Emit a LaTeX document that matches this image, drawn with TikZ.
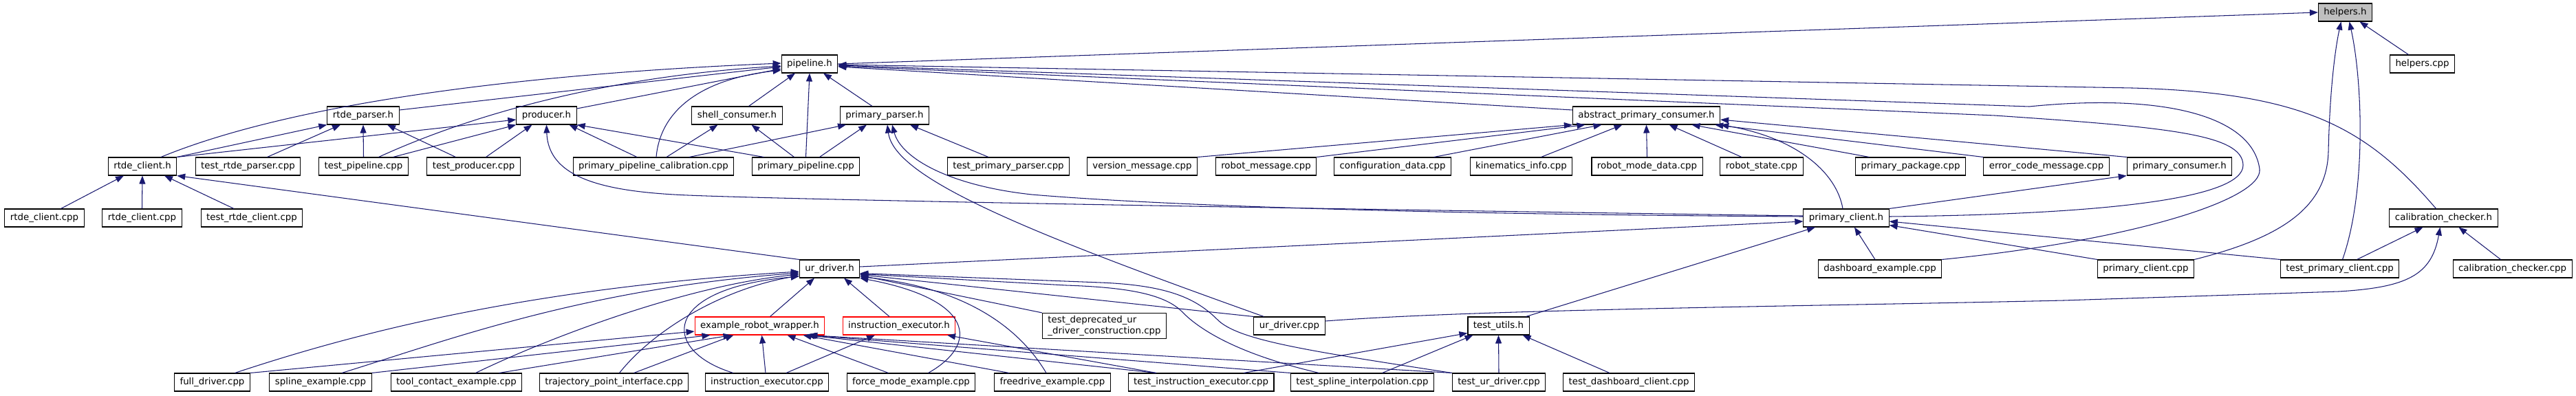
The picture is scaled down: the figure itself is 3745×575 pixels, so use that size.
\documentclass[tikz,border=0pt]{standalone}
\usepackage{fontspec}
\newfontfamily\dotfont{DejaVu Sans}
\usepackage{xcolor}
\usetikzlibrary{arrows.meta}
\definecolor{edgeblue}{HTML}{191970}
\definecolor{headgray}{HTML}{BFBFBF}
\def\px{0.02cm}
\tikzset{
  file/.style={draw=black, fill=white, line width=0.6pt, inner xsep=8*\px, inner ysep=0pt,
    minimum height=26*\px, font=\dotfont\fontsize{7.6}{9}\selectfont},
  target/.style={file, fill=headgray},
  undoc/.style={file, draw=red},
  dep/.style={draw=edgeblue, line width=0.6pt, -{Triangle[length=0.24cm, width=0.18cm]}}
}
\begin{document}
\begin{tikzpicture}[x=0.02cm, y=-0.02cm]
  \useasboundingbox (0,0) rectangle (3745,575);
  % files, one row per rank
  \node[target] (helpersh) at (3409.5,18) {helpers.h};
  \node[file] (pipelineh) at (1177,93) {pipeline.h};
  \node[file] (helperscpp) at (3521.5,93) {helpers.cpp};

  \node[file] (rtdeparserh) at (528,168) {rtde\_parser.h};
  \node[file] (producerh) at (794.5,168) {producer.h};
  \node[file] (shellconsumerh) at (1071.5,168) {shell\_consumer.h};
  \node[file] (primaryparserh) at (1286,168) {primary\_parser.h};
  \node[file] (abstractconsumerh) at (2393.5,168) {abstract\_primary\_consumer.h};

  \node[file] (rtdeclienth) at (207,242) {rtde\_client.h};
  \node[file] (testrtdeparsercpp) at (360.5,242) {test\_rtde\_parser.cpp};
  \node[file] (testpipelinecpp) at (528.5,242) {test\_pipeline.cpp};
  \node[file] (testproducercpp) at (688.5,242) {test\_producer.cpp};
  \node[file] (pipelinecalibcpp) at (950,242) {primary\_pipeline\_calibration.cpp};
  \node[file] (primarypipelinecpp) at (1171.5,242) {primary\_pipeline.cpp};
  \node[file] (testprimaryparsercpp) at (1466,242) {test\_primary\_parser.cpp};
  \node[file] (versionmessagecpp) at (1660.5,242) {version\_message.cpp};
  \node[file] (robotmessagecpp) at (1840.5,242) {robot\_message.cpp};
  \node[file] (configdatacpp) at (2024.5,242) {configuration\_data.cpp};
  \node[file] (kinematicsinfocpp) at (2211.5,242) {kinematics\_info.cpp};
  \node[file] (robotmodedatacpp) at (2394.5,242) {robot\_mode\_data.cpp};
  \node[file] (robotstatecpp) at (2561,242) {robot\_state.cpp};
  \node[file] (primarypackagecpp) at (2777.5,242) {primary\_package.cpp};
  \node[file] (errorcodemessagecpp) at (2975,242) {error\_code\_message.cpp};
  \node[file] (primaryconsumerh) at (3168.5,242) {primary\_consumer.h};

  \node[file] (rtdeclientcppa) at (64.5,317) {rtde\_client.cpp};
  \node[file] (rtdeclientcppb) at (206.5,317) {rtde\_client.cpp};
  \node[file] (testrtdeclientcpp) at (366,317) {test\_rtde\_client.cpp};
  \node[file] (primaryclienth) at (2684,317) {primary\_client.h};
  \node[file] (calibcheckerh) at (3552.5,317) {calibration\_checker.h};

  \node[file] (urdriverh) at (1206,391) {ur\_driver.h};
  \node[file] (dashboardcpp) at (2733,391) {dashboard\_example.cpp};
  \node[file] (primaryclientcpp) at (3119.5,391) {primary\_client.cpp};
  \node[file] (testprimaryclientcpp) at (3401.5,391) {test\_primary\_client.cpp};
  \node[file] (calibcheckercpp) at (3652.5,391) {calibration\_checker.cpp};

  \node[undoc] (robotwrapperh) at (1104.5,474) {example\_robot\_wrapper.h};
  \node[undoc] (instrexech) at (1307,474) {instruction\_executor.h};
  \node[file, align=left, inner ysep=4*\px] (testdeprecatedcpp) at (1605.5,474) {test\_deprecated\_ur\\\_driver\_construction.cpp};
  \node[file] (urdrivercpp) at (1874.5,474) {ur\_driver.cpp};
  \node[file] (testutilsh) at (2178.5,474) {test\_utils.h};

  \node[file] (fulldrivercpp) at (308.5,556) {full\_driver.cpp};
  \node[file] (splinecpp) at (466,556) {spline\_example.cpp};
  \node[file] (toolcontactcpp) at (663.5,556) {tool\_contact\_example.cpp};
  \node[file] (trajectorycpp) at (892.5,556) {trajectory\_point\_interface.cpp};
  \node[file] (instrexeccpp) at (1115,556) {instruction\_executor.cpp};
  \node[file] (forcemodecpp) at (1324.5,556) {force\_mode\_example.cpp};
  \node[file] (freedrivecpp) at (1530,556) {freedrive\_example.cpp};
  \node[file] (testinstrexeccpp) at (1746,556) {test\_instruction\_executor.cpp};
  \node[file] (testsplinecpp) at (1980.5,556) {test\_spline\_interpolation.cpp};
  \node[file] (testurdrivercpp) at (2179,556) {test\_ur\_driver.cpp};
  \node[file] (testdashboardcpp) at (2368,556) {test\_dashboard\_client.cpp};

  % helpers.h
  \draw[dep] (pipelineh.east) -- (helpersh.west);
  \draw[dep] ([xshift=-20*\px]helperscpp.north) -- ([xshift=21*\px]helpersh.south);
  \draw[dep] (primaryclientcpp.north east) .. controls (3320,345) and (3383,300) .. (3385,220) .. controls (3387,130) and (3395,70) .. ([xshift=-6*\px]helpersh.south);
  \draw[dep] ([xshift=4*\px]testprimaryclientcpp.north) .. controls (3440,280) and (3435,120) .. ([xshift=6*\px]helpersh.south);

  % pipeline.h
  \draw[dep] ([xshift=27*\px]rtdeclienth.north) .. controls (400,160) and (700,110) .. ([yshift=1*\px]pipelineh.west);
  \draw[dep] ([yshift=8*\px]rtdeparserh.east) -- ([yshift=-4*\px]pipelineh.west);
  \draw[dep] ([yshift=10*\px]producerh.east) -- ([yshift=-7*\px]pipelineh.west);
  \draw[dep] ([xshift=22*\px]testpipelinecpp.north) .. controls (700,160) and (900,110) .. ([yshift=-3*\px]pipelineh.west);
  \draw[dep] ([xshift=4*\px]pipelinecalibcpp.north) .. controls (960,160) and (1020,115) .. ([yshift=-9*\px]pipelineh.west);
  \draw[dep] ([xshift=17*\px]shellconsumerh.north) -- ([xshift=-21*\px]pipelineh.south);
  \draw[dep] (primarypipelinecpp.north) -- (pipelineh.south);
  \draw[dep] ([xshift=-18*\px]primaryparserh.north) -- ([xshift=20*\px]pipelineh.south);
  \draw[dep] ([yshift=8*\px]abstractconsumerh.west) -- ([yshift=-4*\px]pipelineh.east);
  \draw[dep] ([xshift=-11*\px]calibcheckerh.north) .. controls (3440,185) and (3350,135) .. (3100,128) -- ([yshift=-1*\px]pipelineh.east);
  \draw[dep] (dashboardcpp.north east) .. controls (3100,350) and (3290,290) .. (3285,246) .. controls (3275,170) and (3150,135) .. (2950,155) -- ([yshift=-2*\px]pipelineh.east);
  \draw[dep] ([yshift=2*\px]primaryclienth.east) .. controls (3050,312) and (3262,290) .. (3261,240) .. controls (3260,195) and (3150,185) .. (2900,168) -- ([yshift=-3*\px]pipelineh.east);

  % rtde_parser.h
  \draw[dep] (rtdeclienth.north east) -- (rtdeparserh.south west);
  \draw[dep] ([xshift=28*\px]testrtdeparsercpp.north) -- ([xshift=-33*\px]rtdeparserh.south);
  \draw[dep] (testpipelinecpp.north) -- (rtdeparserh.south);
  \draw[dep] ([xshift=-26*\px]testproducercpp.north) -- ([xshift=35*\px]rtdeparserh.south);

  % producer.h
  \draw[dep] (rtdeclienth.north east) -- ([yshift=-6*\px]producerh.west);
  \draw[dep] ([xshift=43*\px]testpipelinecpp.north) -- (producerh.south west);
  \draw[dep] ([xshift=18*\px]testproducercpp.north) -- ([xshift=-21*\px]producerh.south);
  \draw[dep] ([xshift=-24*\px]pipelinecalibcpp.north) -- ([xshift=33*\px]producerh.south);
  \draw[dep] ([xshift=-61*\px]primarypipelinecpp.north) -- (producerh.south east);
  \draw[dep] ([yshift=3*\px]primaryclienth.west) .. controls (2000,305) and (1200,292) .. (1000,284) .. controls (880,279) and (797,260) .. (producerh.south);

  % shell_consumer.h
  \draw[dep] ([xshift=19*\px]pipelinecalibcpp.north) -- ([xshift=-28*\px]shellconsumerh.south);
  \draw[dep] ([xshift=-17*\px]primarypipelinecpp.north) -- ([xshift=21*\px]shellconsumerh.south);

  % primary_parser.h
  \draw[dep] ([xshift=52*\px]pipelinecalibcpp.north) -- ([xshift=-56*\px]primaryparserh.south);
  \draw[dep] ([xshift=20*\px]primarypipelinecpp.north) -- ([xshift=-26*\px]primaryparserh.south);
  \draw[dep] ([xshift=-29*\px]testprimaryparsercpp.north) -- ([xshift=37*\px]primaryparserh.south);
  \draw[dep] ([xshift=15*\px]urdrivercpp.north west) .. controls (1500,340) and (1300,260) .. ([xshift=4*\px]primaryparserh.south);
  \draw[dep] ([yshift=2*\px]primaryclienth.west) .. controls (2100,312) and (1700,300) .. (1500,283) .. controls (1380,270) and (1310,230) .. ([xshift=11*\px]primaryparserh.south);

  % abstract_primary_consumer.h
  \draw[dep] (versionmessagecpp.north east) -- (abstractconsumerh.south west);
  \draw[dep] (robotmessagecpp.north east) -- ([xshift=-89*\px]abstractconsumerh.south);
  \draw[dep] ([xshift=60*\px]configdatacpp.north) -- ([xshift=-65*\px]abstractconsumerh.south);
  \draw[dep] ([xshift=29*\px]kinematicsinfocpp.north) -- ([xshift=-35*\px]abstractconsumerh.south);
  \draw[dep] (robotmodedatacpp.north) -- (abstractconsumerh.south);
  \draw[dep] ([xshift=-29*\px]robotstatecpp.north) -- ([xshift=33*\px]abstractconsumerh.south);
  \draw[dep] ([xshift=-60*\px]primarypackagecpp.north) -- ([xshift=66*\px]abstractconsumerh.south);
  \draw[dep] (errorcodemessagecpp.north west) -- ([xshift=-8*\px]abstractconsumerh.south east);
  \draw[dep] (primaryconsumerh.north west) -- ([yshift=-6*\px]abstractconsumerh.east);
  \draw[dep] ([xshift=-5*\px]primaryclienth.north) .. controls (2670,250) and (2610,200) .. (abstractconsumerh.south east);

  % primary_consumer.h
  \draw[dep] (primaryclienth.north east) -- (primaryconsumerh.south west);

  % rtde_client.h
  \draw[dep] ([xshift=24*\px]rtdeclientcppa.north) -- ([xshift=-27*\px]rtdeclienth.south);
  \draw[dep] (rtdeclientcppb.north) -- (rtdeclienth.south);
  \draw[dep] ([xshift=-26*\px]testrtdeclientcpp.north) -- ([xshift=32*\px]rtdeclienth.south);
  \draw[dep] (urdriverh.north west) -- (rtdeclienth.south east);

  % primary_client.h
  \draw[dep] ([yshift=3*\px]urdriverh.east) -- ([yshift=-5*\px]primaryclienth.west);
  \draw[dep] ([xshift=-7*\px]dashboardcpp.north) -- ([xshift=12*\px]primaryclienth.south);
  \draw[dep] ([xshift=40*\px]testutilsh.north) -- ([xshift=-45*\px]primaryclienth.south);
  \draw[dep] (primaryclientcpp.north west) -- ([yshift=3*\px]primaryclienth.south east);
  \draw[dep] (testprimaryclientcpp.north west) -- ([yshift=-5*\px]primaryclienth.east);

  % calibration_checker.h
  \draw[dep] ([xshift=25*\px]testprimaryclientcpp.north) -- ([xshift=-30*\px]calibcheckerh.south);
  \draw[dep] ([xshift=-17*\px]calibcheckercpp.north) -- ([xshift=22*\px]calibcheckerh.south);
  \draw[dep] ([yshift=7*\px]urdrivercpp.east) .. controls (2150,450) and (2600,446) .. (3000,437) -- (3400,424) .. controls (3500,418) and (3535,400) .. ([xshift=-5*\px]calibcheckerh.south);

  % ur_driver.h
  \draw[dep] ([xshift=33*\px]fulldrivercpp.north) .. controls (500,490) and (750,420) .. ([yshift=-4*\px]urdriverh.west);
  \draw[dep] ([xshift=31*\px]splinecpp.north) .. controls (650,495) and (850,420) .. ([yshift=-6*\px]urdriverh.west);
  \draw[dep] ([xshift=28*\px]toolcontactcpp.north) .. controls (800,490) and (1000,415) .. ([yshift=-8*\px]urdriverh.west);
  \draw[dep] ([xshift=8*\px]trajectorycpp.north) .. controls (950,480) and (1050,420) .. ([yshift=-10*\px]urdriverh.west);
  \draw[dep] ([xshift=-49*\px]instrexeccpp.north) .. controls (960,510) and (960,420) .. ([yshift=-11*\px]urdriverh.west);
  \draw[dep] ([xshift=15*\px]robotwrapperh.north) -- ([xshift=-22*\px]urdriverh.south);
  \draw[dep] ([xshift=-14*\px]instrexech.north) -- ([xshift=21*\px]urdriverh.south);
  \draw[dep] ([xshift=25*\px]forcemodecpp.north) .. controls (1425,500) and (1415,435) .. (urdriverh.south east);
  \draw[dep] ([xshift=-9*\px]freedrivecpp.north) .. controls (1490,490) and (1420,420) .. ([yshift=2*\px]urdriverh.south east);
  \draw[dep] (testdeprecatedcpp.north west) -- ([yshift=4*\px]urdriverh.south east);
  \draw[dep] (urdrivercpp.north west) -- ([yshift=5*\px]urdriverh.south east);
  \draw[dep] ([xshift=-63*\px]testsplinecpp.north) .. controls (1800,515) and (1745,480) .. (1720,455) .. controls (1695,428) and (1640,418) .. (1550,415) -- ([yshift=6*\px]urdriverh.south east);
  \draw[dep] (testurdrivercpp.north west) .. controls (1900,510) and (1800,495) .. (1770,465) .. controls (1740,435) and (1700,415) .. (1600,411) -- ([yshift=7*\px]urdriverh.south east);

  % example_robot_wrapper.h
  \draw[dep] (fulldrivercpp.north east) -- ([yshift=-8*\px]robotwrapperh.west);
  \draw[dep] (splinecpp.north east) -- ([xshift=-72*\px]robotwrapperh.south);
  \draw[dep] ([xshift=62*\px]toolcontactcpp.north) -- ([xshift=-41*\px]robotwrapperh.south);
  \draw[dep] ([xshift=29*\px]trajectorycpp.north) -- ([xshift=-38*\px]robotwrapperh.south);
  \draw[dep] ([xshift=-2*\px]instrexeccpp.north) -- ([xshift=3*\px]robotwrapperh.south);
  \draw[dep] ([xshift=-33*\px]forcemodecpp.north) -- ([xshift=40*\px]robotwrapperh.south);
  \draw[dep] ([xshift=-63*\px]freedrivecpp.north) -- ([xshift=63*\px]robotwrapperh.south);
  \draw[dep] ([xshift=-65*\px]testinstrexeccpp.north) -- ([xshift=68*\px]robotwrapperh.south);
  \draw[dep] (testsplinecpp.north west) -- ([xshift=70*\px]robotwrapperh.south);
  \draw[dep] (testurdrivercpp.north west) -- ([xshift=72*\px]robotwrapperh.south);

  % instruction_executor.h
  \draw[dep] ([xshift=28*\px]instrexeccpp.north) -- ([xshift=-35*\px]instrexech.south);
  \draw[dep] ([xshift=-65*\px]testinstrexeccpp.north) -- ([xshift=70*\px]instrexech.south);

  % test_utils.h
  \draw[dep] ([xshift=62*\px]testinstrexeccpp.north) -- ([yshift=3*\px]testutilsh.south west);
  \draw[dep] ([xshift=29*\px]testsplinecpp.north) -- ([xshift=-37*\px]testutilsh.south);
  \draw[dep] (testurdrivercpp.north) -- (testutilsh.south);
  \draw[dep] ([xshift=-28*\px]testdashboardcpp.north) -- ([xshift=35*\px]testutilsh.south);
\end{tikzpicture}
\end{document}
